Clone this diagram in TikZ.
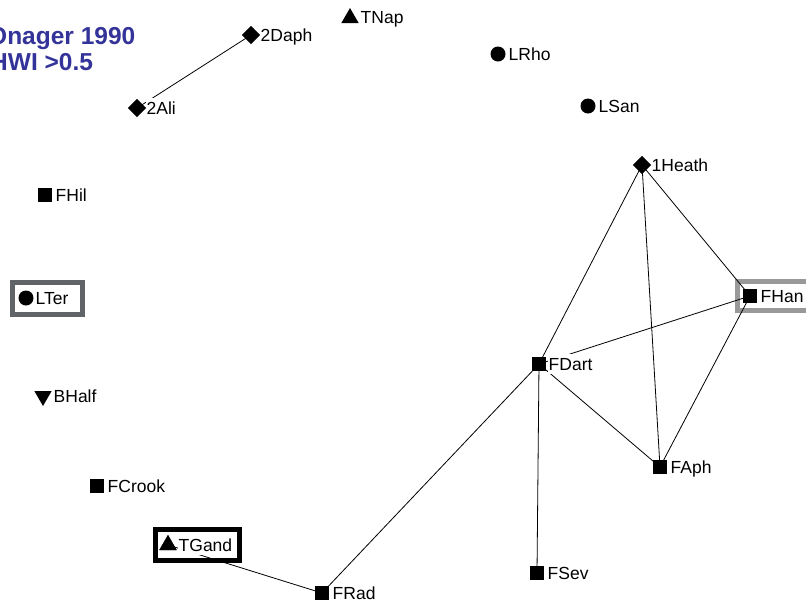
\documentclass[tikz,border=0pt]{standalone}
\usepackage{fontspec}
\setmainfont{Liberation Sans}
\usetikzlibrary{shapes.geometric}
\definecolor{titleblue}{RGB}{51,51,153}
\definecolor{boxgrayA}{RGB}{96,100,104}
\definecolor{boxgrayB}{RGB}{153,153,153}
\tikzset{
  sq/.style={rectangle,fill=black,minimum size=14pt,inner sep=0pt},
  ci/.style={circle,fill=black,minimum size=15pt,inner sep=0pt},
  di/.style={diamond,fill=black,minimum size=18pt,inner sep=0pt},
  tri/.style={regular polygon,regular polygon sides=3,fill=black,minimum size=20pt,inner sep=0pt},
  dtri/.style={regular polygon,regular polygon sides=3,shape border rotate=180,fill=black,minimum size=20pt,inner sep=0pt},
  lab/.style={anchor=west,fill=white,inner xsep=0.5pt,inner ysep=0.5pt,text height=16pt,text depth=3.5pt,font=\fontsize{17.5}{20}\selectfont},
  edge/.style={draw=black,line width=0.8pt},
  hbox/.style={line width=5pt,fill=white},
  ttl/.style={anchor=base west,inner sep=0pt,text=titleblue,font=\fontsize{24.5}{28}\bfseries\selectfont}
}
\begin{document}
\begin{tikzpicture}[x={(1pt,0)},y={(0,-1pt)}]
\useasboundingbox (0,0) rectangle (806,603);
\fill[white] (0,0) rectangle (806,603);
% highlight boxes
\draw[hbox,draw=boxgrayA] (12.5,282.5) rectangle (82.5,314.5);
\draw[hbox,draw=boxgrayB] (737.5,281.5) rectangle (812,310.5);
\draw[hbox,draw=black] (155.5,529.5) rectangle (239.5,560.5);
% title
\node[ttl] (t1) at (-12,44) {Onager 1990};
\node[ttl] (t2) at (-10,70) {HWI >0.5};
% markers
\node[di] (2Daph) at (251,35) {};
\node[tri] (TNap) at (350,18) {};
\node[ci] (LRho) at (498,54) {};
\node[ci] (LSan) at (588,106) {};
\node[di] (2Ali) at (137,108) {};
\node[di] (1Heath) at (642,165) {};
\node[sq] (FHil) at (45,195) {};
\node[ci] (LTer) at (26,298) {};
\node[sq] (FHan) at (750,296) {};
\node[sq] (FDart) at (539,364) {};
\node[dtri] (BHalf) at (43,396) {};
\node[sq] (FAph) at (660,467) {};
\node[sq] (FCrook) at (97,486) {};
\node[tri] (TGand) at (168,545) {};
\node[sq] (FSev) at (537,573) {};
\node[sq] (FRad) at (322,593) {};
% edges
\draw[edge] (2Daph.center) -- (2Ali.center);
\draw[edge] (1Heath.center) -- (FDart.center);
\draw[edge] (1Heath.center) -- (FAph.center);
\draw[edge] (1Heath.center) -- (FHan.center);
\draw[edge] (FHan.center) -- (FDart.center);
\draw[edge] (FHan.center) -- (FAph.center);
\draw[edge] (FDart.center) -- (FAph.center);
\draw[edge] (FDart.center) -- (FSev.center);
\draw[edge] (FDart.center) -- (FRad.center);
\draw[edge] (FRad.center) -- (TGand.center);
% redraw markers over edges
\foreach \n/\s in {2Daph/di,2Ali/di,1Heath/di,FHan/sq,FDart/sq,FAph/sq,FSev/sq,FRad/sq,TGand/tri}{
  \node[\s] at (\n) {};
}
% labels
\node[lab] (2Daph-l) at (260,35) {2Daph};
\node[lab] (TNap-l) at (360,17) {TNap};
\node[lab] (LRho-l) at (508,54) {LRho};
\node[lab] (LSan-l) at (598,106) {LSan};
\node[lab] (2Ali-l) at (146,108) {2Ali};
\node[lab] (1Heath-l) at (651,165) {1Heath};
\node[lab] (FHil-l) at (55,195) {FHil};
\node[lab] (LTer-l) at (35,298) {LTer};
\node[lab] (FHan-l) at (760,296) {FHan};
\node[lab] (FDart-l) at (548,364) {FDart};
\node[lab] (BHalf-l) at (53,396) {BHalf};
\node[lab] (FAph-l) at (670,467) {FAph};
\node[lab] (FCrook-l) at (107,486) {FCrook};
\node[lab] (TGand-l) at (178,545) {TGand};
\node[lab] (FSev-l) at (547,573) {FSev};
\node[lab] (FRad-l) at (332,593) {FRad};
\end{tikzpicture}
\end{document}
